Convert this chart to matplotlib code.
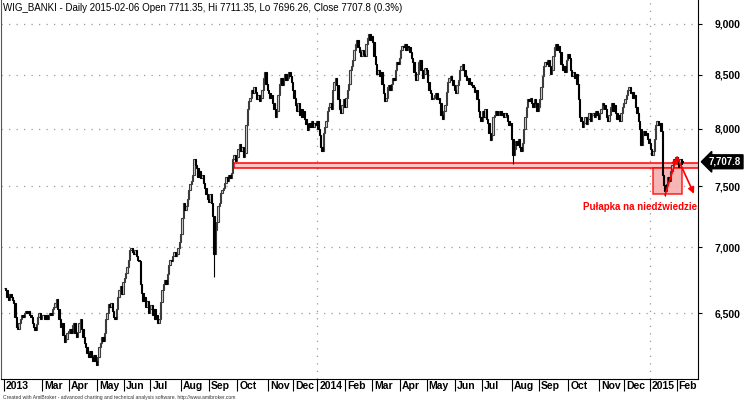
import numpy as np
import matplotlib
matplotlib.use('Agg')
import matplotlib.pyplot as plt
import matplotlib.transforms as mtransforms
from matplotlib.patches import Rectangle
from matplotlib.ticker import NullLocator

plt.rcParams['font.family'] = ['Liberation Sans', 'DejaVu Sans']

# dzienne zamknięcia WIG_BANKI, miesiąc po miesiącu
jan13 = [6690, 6670, 6620, 6600, 6640, 6620, 6600, 6575, 6470]
feb13 = [6400, 6385, 6430, 6455, 6485, 6470, 6500, 6515, 6500, 6520, 6490, 6470, 6430, 6400, 6380, 6420, 6470, 6500, 6455, 6485]
mar13 = [6485, 6455, 6485, 6455, 6485, 6500, 6485, 6530, 6545, 6575, 6605, 6530, 6455, 6400, 6430, 6345, 6295, 6315, 6355, 6370]
apr13 = [6385, 6355, 6415, 6430, 6355, 6330, 6365, 6430, 6455, 6385, 6330, 6285, 6260, 6215, 6190, 6230, 6190, 6160, 6200, 6160, 6135]
may13 = [6190, 6260, 6285, 6330, 6300, 6355, 6455, 6500, 6565, 6545, 6575, 6515, 6470, 6455, 6530, 6620, 6675, 6705, 6645, 6735]
jun13 = [6765, 6800, 6845, 6905, 6980, 6995, 6965, 6950, 6980, 6935, 6905, 6890, 6720, 6650, 6590, 6620, 6545, 6590, 6500, 6530]
jul13 = [6560, 6485, 6530, 6455, 6485, 6430, 6455, 6580, 6675, 6720, 6750, 6720, 6795, 6860, 6905, 6890, 6935, 6965, 6935, 6950, 6995, 7045, 7105]
aug13 = [7235, 7355, 7300, 7330, 7395, 7465, 7515, 7545, 7595, 7735, 7680, 7650, 7580, 7630, 7565, 7595, 7530, 7480, 7430, 7395, 7365]
sep13 = [7430, 7355, 7250, 6950, 7140, 7200, 7330, 7355, 7440, 7465, 7480, 7530, 7580, 7545, 7595, 7565, 7615, 7735, 7770, 7715, 7750]
oct13 = [7820, 7865, 7800, 7835, 7750, 7785, 8030, 8175, 8250, 8285, 8360, 8325, 8380, 8340, 8270, 8305, 8250, 8285, 8360, 8470, 8530, 8415, 8360]
nov13 = [8325, 8285, 8305, 8230, 8175, 8105, 8160, 8305, 8415, 8470, 8400, 8455, 8510, 8455, 8470, 8530, 8490, 8435, 8360]
dec13 = [8285, 8215, 8160, 8230, 8120, 8175, 8105, 8160, 8085, 8040, 7990, 8050, 8015, 8065, 8015, 8050, 8030, 8065]
jan14 = [7995, 7945, 7835, 7800, 7960, 8015, 8065, 8160, 8195, 8230, 8175, 8360, 8435, 8470, 8400, 8270, 8175, 8140, 8215, 8270, 8195]
feb14 = [8285, 8360, 8415, 8545, 8585, 8645, 8740, 8800, 8840, 8765, 8720, 8680, 8740, 8700, 8680, 8800, 8860, 8900, 8840, 8880]
mar14 = [8820, 8680, 8605, 8510, 8545, 8490, 8530, 8415, 8325, 8250, 8285, 8380, 8400, 8360, 8415, 8470, 8455, 8545, 8625, 8605, 8660]
apr14 = [8740, 8780, 8765, 8800, 8740, 8780, 8765, 8720, 8665, 8625, 8530, 8455, 8510, 8625, 8645, 8545, 8470, 8510, 8570, 8545]
may14 = [8435, 8360, 8325, 8270, 8285, 8305, 8325, 8270, 8285, 8230, 8120, 8085, 8160, 8215, 8340, 8435, 8470, 8490, 8455, 8400, 8360]
jun14 = [8325, 8400, 8455, 8545, 8585, 8605, 8545, 8490, 8455, 8470, 8415, 8435, 8400, 8380, 8340, 8360, 8270, 8160, 8105, 8065]
jul14 = [8160, 8105, 8175, 8085, 8050, 7960, 7895, 7945, 8105, 8120, 8160, 8120, 8140, 8160, 8120, 8140, 8105, 8140, 8120, 8065, 8030, 8050, 7905]
aug14 = [7770, 7820, 7890, 7855, 7905, 7835, 7800, 7870, 7995, 8105, 8195, 8270, 8250, 8285, 8230, 8195, 8270, 8230, 8160, 8195]
sep14 = [8270, 8380, 8490, 8585, 8625, 8605, 8645, 8585, 8510, 8545, 8680, 8765, 8800, 8740, 8780, 8720, 8605, 8545, 8585, 8530, 8645, 8700]
oct14 = [8660, 8545, 8490, 8530, 8470, 8510, 8415, 8270, 8105, 8065, 8015, 8050, 8105, 8040, 8085, 8140, 8065, 8120, 8140, 8105, 8160, 8120, 8085]
nov14 = [8140, 8175, 8230, 8215, 8175, 8105, 8065, 8120, 8195, 8230, 8160, 8215, 8140, 8085, 8120, 8065, 8140, 8195, 8230]
dec14 = [8270, 8305, 8360, 8380, 8325, 8340, 8285, 8305, 8195, 8140, 8065, 7995, 7855, 7945, 7980, 7945, 7960, 7905, 7870]
jan15 = [7820, 7770, 7800, 7905, 8030, 8065, 8030, 8050, 7980, 7595, 7505, 7455, 7515, 7580, 7545, 7630, 7680, 7735, 7715, 7750]
feb15 = [7700, 7665, 7735, 7685, 7707.8]

month_labels = ['2013', '', 'Mar', 'Apr', 'May', 'Jun', 'Jul', 'Aug', 'Sep', 'Oct', 'Nov', 'Dec',
                '2014', 'Feb', 'Mar', 'Apr', 'May', 'Jun', 'Jul', 'Aug', 'Sep', 'Oct', 'Nov', 'Dec',
                '2015', 'Feb']
month_data = [jan13, feb13, mar13, apr13, may13, jun13, jul13, aug13, sep13, oct13, nov13, dec13,
              jan14, feb14, mar14, apr14, may14, jun14, jul14, aug14, sep14, oct14, nov14, dec14,
              jan15, feb15]

# długie dolne cienie (indeks sesji, minimum)
tail_idx = [157, 381, 495]
tail_low = [6770, 7690, 7420]

# ostatnia sesja z nagłówka
last_date = '2015-02-06'
last_open, last_high, last_low, last_close, last_chg = 7711.35, 7711.35, 7696.26, 7707.8, 0.3

price_levels = [6500, 7000, 7500, 8000, 8500, 9000]

closes = np.array(np.concatenate(month_data), dtype=float)
n = len(closes)
x = np.arange(n)
opens = np.r_[closes[0], closes[:-1]]
opens[-1] = last_open
starts = np.cumsum([0] + [len(m) for m in month_data[:-1]])

fig = plt.figure(figsize=(7.44, 4.03), dpi=100)
ax = fig.add_axes([1/744, 1 - 379/403, 697/744, 379/403])
ax.set_yscale('log')
ax.set_xlim(-2.47, 519.6)
ax.set_ylim(6037, 9246)

# siatka
for p in price_levels:
    ax.axhline(p, color='#9a9a9a', lw=0.9, ls=(0, (1, 5)), zorder=1)
for i, lab in enumerate(month_labels):
    if lab in ('2014', '2015'):
        ax.axvline(starts[i] - 0.5, color='#9a9a9a', lw=0.9, ls=(0, (1, 5)), zorder=1)

# strefa wsparcia i prostokąt pułapki
ax.add_patch(Rectangle((172, 7652), 360, 7695 - 7652, fc='#ffc4c4', ec='#ff0000', lw=1.1, zorder=2))
ax.add_patch(Rectangle((486, 7430), 21.6, 7650 - 7430, fc='#f7a8a8', ec='#ff0000', lw=1.1, alpha=0.85, zorder=2))

# świece
up = closes >= opens
lo = np.minimum(opens, closes)
hi = np.maximum(opens, closes)
ax.vlines(tail_idx, tail_low, lo[tail_idx], color='black', lw=0.8, zorder=3)
ax.bar(x[up], hi[up] - lo[up], bottom=lo[up], width=1.0, color='#d4d4d4', edgecolor='#3c3c3c', linewidth=0.8, zorder=3)
ax.bar(x[~up], hi[~up] - lo[~up], bottom=lo[~up], width=1.0, color='black', edgecolor='black', linewidth=0.8, zorder=3)

# strzałki
ax.annotate('', xy=(503.9, 7750), xytext=(494.9, 7425),
            arrowprops=dict(arrowstyle='-|>', color='#ff0000', lw=1.2, mutation_scale=9, shrinkA=0, shrinkB=0), zorder=5)
ax.annotate('', xy=(516.6, 7435), xytext=(503.9, 7750),
            arrowprops=dict(arrowstyle='-|>', color='#ff0000', lw=1.2, mutation_scale=9, shrinkA=0, shrinkB=0), zorder=5)
ax.text(518.8, 7323, 'Pułapka na niedźwiedzie', color='#ff0000', fontsize=7, fontweight='bold',
        ha='right', va='center', zorder=6)

# osie
ax.spines['top'].set_visible(False)
ax.spines['left'].set_color('#555555')
ax.spines['right'].set_color('black')
ax.spines['bottom'].set_color('black')

ax.yaxis.tick_right()
ax.yaxis.set_minor_locator(NullLocator())
ax.set_yticks(price_levels)
ax.set_yticklabels(['{:,}'.format(p) for p in price_levels], fontweight='bold')
ax.tick_params(axis='y', length=3, pad=9, labelsize=7.5, colors='black')

tick_pos = [starts[i] - 0.5 for i, lab in enumerate(month_labels) if lab]
ax.set_xticks(tick_pos)
ax.set_xticklabels([])
ax.xaxis.set_minor_locator(NullLocator())
ax.tick_params(axis='x', length=8.5, width=0.8, colors='black')
trans = mtransforms.blended_transform_factory(ax.transData, ax.transAxes)
for i, lab in enumerate(month_labels):
    if lab:
        ax.text(starts[i] + 0.9, -0.019, lab, transform=trans, fontsize=7.5, fontweight='bold',
                ha='left', va='center', clip_on=False)

# etykieta ostatniej ceny
trans_y = mtransforms.blended_transform_factory(ax.transAxes, ax.transData)
ax.text(1.0155, last_close, '{:,.1f}'.format(last_close), transform=trans_y, color='white', fontsize=7,
        fontweight='bold', ha='left', va='center', clip_on=False, zorder=7,
        bbox=dict(boxstyle='larrow,pad=0.2', fc='black', ec='black'))

title = 'WIG_BANKI - Daily {} Open {}, Hi {}, Lo {}, Close {} ({}%)'.format(
    last_date, last_open, last_high, last_low, last_close, last_chg)
fig.text(3/744, 1 - 8/403, title, fontsize=7.0, color='black', va='center', ha='left')
fig.text(3/744, 1 - 397/403, 'Created with AmiBroker - advanced charting and technical analysis software. http://www.amibroker.com',
         fontsize=3.6, color='#333333', va='center', ha='left')

fig.savefig('out.png', dpi=100)
